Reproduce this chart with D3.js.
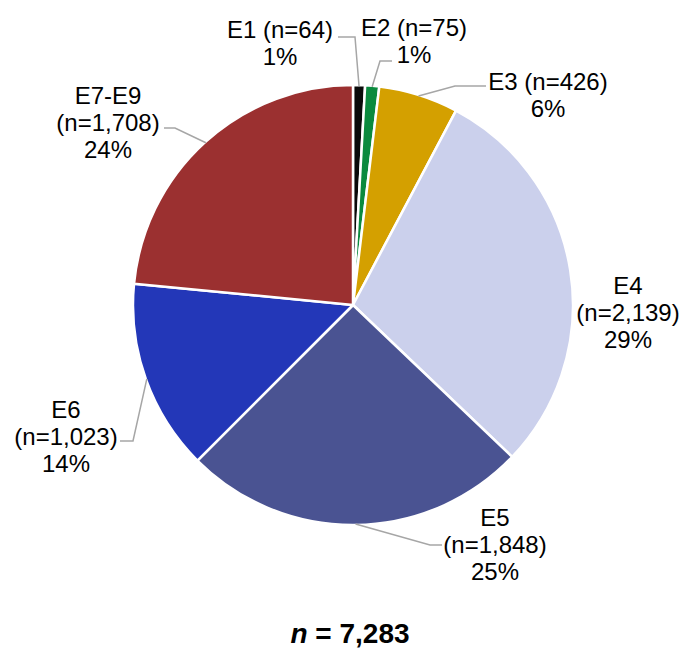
<!DOCTYPE html>
<html>
<head>
<meta charset="utf-8">
<script src="https://cdn.jsdelivr.net/npm/d3@7"></script>
<style>
  html, body { margin: 0; padding: 0; background: #ffffff; }
  svg { display: block; font-family: "Liberation Sans", Arial, sans-serif; }
</style>
</head>
<body>
<svg id="chart" width="683" height="648"></svg>
<script>
// Enlisted grade groups and respondent counts
const categories = ["E1", "E2", "E3", "E4", "E5", "E6", "E7-E9"];
const counts = [64, 75, 426, 2139, 1848, 1023, 1708];
const percentLabels = ["1%", "1%", "6%", "29%", "25%", "14%", "24%"];
const totalLabel = "7,283";
const colors = ["#0a0a0a", "#0b8a3e", "#d4a000", "#cbd0ec", "#4a5392", "#2337b8", "#9b3030"];

const width = 683, height = 648;
const cx = 353, cy = 305, radius = 220;
const fontSize = 24, lineGap = 27;

const svg = d3.select("#chart");

const pie = d3.pie().sort(null).value(d => d.count);
const arcs = pie(categories.map((c, i) => ({ cat: c, count: counts[i], pct: percentLabels[i], color: colors[i] })));
const arc = d3.arc().innerRadius(0).outerRadius(radius);

const g = svg.append("g").attr("transform", `translate(${cx},${cy})`);

g.selectAll("path.slice")
  .data(arcs)
  .join("path")
  .attr("class", "slice")
  .attr("d", arc)
  .attr("fill", d => d.data.color)
  .attr("stroke", "#ffffff")
  .attr("stroke-width", 2.5)
  .attr("stroke-linejoin", "round");

// Label placement: text block centre, first baseline, and leader elbow/end points
const fmt = d3.format(",");
const labelLayout = {
  "E1":    { x: 280, y: 38,  lines: d => [`${d.cat} (n=${fmt(d.count)})`, d.pct], leader: [[355, 37], [338, 37]] },
  "E2":    { x: 414, y: 36,  lines: d => [`${d.cat} (n=${fmt(d.count)})`, d.pct], leader: [[380, 61], [392, 61]] },
  "E3":    { x: 548, y: 90,  lines: d => [`${d.cat} (n=${fmt(d.count)})`, d.pct], leader: [[455, 86], [486, 86]] },
  "E4":    { x: 628, y: 294, lines: d => [d.cat, `(n=${fmt(d.count)})`, d.pct], leader: null },
  "E5":    { x: 495, y: 526, lines: d => [d.cat, `(n=${fmt(d.count)})`, d.pct], leader: [[430, 545], [442, 545]] },
  "E6":    { x: 66,  y: 418, lines: d => [d.cat, `(n=${fmt(d.count)})`, d.pct], leader: [[133, 441], [120, 441]] },
  "E7-E9": { x: 108, y: 104, lines: d => [d.cat, `(n=${fmt(d.count)})`, d.pct], leader: [[175, 128], [164, 128]] }
};

arcs.forEach(d => {
  const L = labelLayout[d.data.cat];
  if (L.leader) {
    const mid = (d.startAngle + d.endAngle) / 2;
    const r = radius - 1;
    const start = [cx + r * Math.sin(mid), cy - r * Math.cos(mid)];
    const pts = [start, ...L.leader];
    svg.append("path")
      .attr("d", d3.line()(pts))
      .attr("fill", "none")
      .attr("stroke", "#a6a6a6")
      .attr("stroke-width", 1.5);
  }
  const t = svg.append("text")
    .attr("text-anchor", "middle")
    .attr("font-size", fontSize)
    .attr("fill", "#000000");
  L.lines(d.data).forEach((s, i) => {
    t.append("tspan").attr("x", L.x).attr("y", L.y + i * lineGap).text(s);
  });
});

// Total sample size
const total = svg.append("text")
  .attr("x", 350)
  .attr("y", 643)
  .attr("text-anchor", "middle")
  .attr("font-size", 28)
  .attr("font-weight", "bold")
  .attr("fill", "#000000");
total.append("tspan").attr("font-style", "italic").text("n");
total.append("tspan").text(" = " + totalLabel);
</script>
</body>
</html>
